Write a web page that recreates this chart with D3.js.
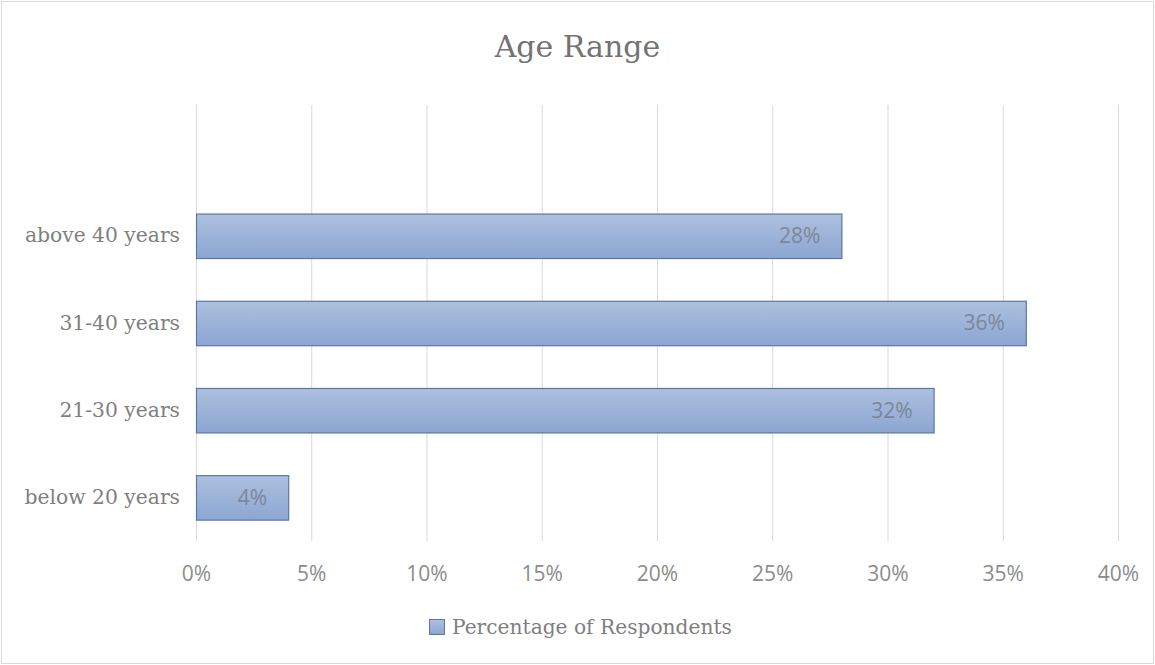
<!DOCTYPE html>
<html>
<head>
<meta charset="utf-8">
<script src="https://cdn.jsdelivr.net/npm/d3@7"></script>
<style>
  html, body { margin: 0; padding: 0; background: #fff; }
  svg { display: block; }
</style>
</head>
<body>
<script>
// Age distribution of respondents
const categories = ["above 40 years", "31-40 years", "21-30 years", "below 20 years"];
const values = [28, 36, 32, 4];
const tickValues = [0, 5, 10, 15, 20, 25, 30, 35, 40];
const seriesName = "Percentage of Respondents";
const title = "Age Range";

const W = 1155, H = 665;
const svg = d3.select("body").append("svg").attr("width", W).attr("height", H);

const defs = svg.append("defs");
const grad = defs.append("linearGradient").attr("id", "barGrad")
  .attr("x1", 0).attr("y1", 0).attr("x2", 0).attr("y2", 1);
grad.append("stop").attr("offset", "0%").attr("stop-color", "#adc0de");
grad.append("stop").attr("offset", "100%").attr("stop-color", "#8ba6d2");

// chart frame
svg.append("rect").attr("x", 1.5).attr("y", 1.5).attr("width", W - 3).attr("height", H - 3)
  .attr("fill", "#fff").attr("stroke", "#d9d9d9").attr("stroke-width", 1);

const plotTop = 105, plotBottom = 541, left = 196, right = 1118;
const serif = "'DejaVu Serif', serif";
const sans = "'Open Sans', sans-serif";

const x = d3.scaleLinear().domain([0, 40]).range([left, right]);
// one empty slot above the first category
const step = (plotBottom - plotTop) / (categories.length + 1);
const y = d3.scaleBand().domain(categories)
  .range([plotTop + step, plotBottom]).paddingInner(0.49).paddingOuter(0.245);

// vertical gridlines
svg.append("g").selectAll("line").data(tickValues).join("line")
  .attr("x1", d => x(d) + 0.5).attr("x2", d => x(d) + 0.5)
  .attr("y1", plotTop).attr("y2", plotBottom)
  .attr("stroke", "#d9d9d9").attr("stroke-width", 1);

// x axis tick labels
const xAxis = d3.axisBottom(x).tickValues(tickValues).tickFormat(d => d + "%").tickSize(0).tickPadding(0);
const gx = svg.append("g").attr("transform", `translate(0, ${plotBottom + 24})`).call(xAxis);
gx.select(".domain").remove();
gx.selectAll("text").attr("fill", "#8c8c8c").attr("font-family", sans)
  .attr("font-size", 21).attr("dy", "0.75em");

// y axis category labels
const yAxis = d3.axisLeft(y).tickSize(0).tickPadding(16);
const gy = svg.append("g").attr("transform", `translate(${left}, 0)`).call(yAxis);
gy.select(".domain").remove();
gy.selectAll("text").attr("fill", "#7f7f7f").attr("font-family", serif)
  .attr("font-size", 20.3);

// bars
svg.append("g").selectAll("rect").data(categories).join("rect")
  .attr("x", x(0) + 0.5)
  .attr("y", d => y(d) + 0.5)
  .attr("width", (d, i) => x(values[i]) - x(0))
  .attr("height", y.bandwidth())
  .attr("fill", "url(#barGrad)")
  .attr("stroke", "#5a77a6").attr("stroke-width", 1.2);

// data labels inside bar ends
svg.append("g").selectAll("text").data(categories).join("text")
  .attr("x", (d, i) => x(values[i]) - 21)
  .attr("y", d => y(d) + y.bandwidth() / 2)
  .attr("dy", "0.35em")
  .attr("text-anchor", "end")
  .attr("fill", "#7d8699")
  .attr("font-family", sans)
  .attr("font-size", 21)
  .text((d, i) => values[i] + "%");

// title
svg.append("text").attr("x", W / 2).attr("y", 57).attr("text-anchor", "middle")
  .attr("fill", "#737373").attr("font-family", serif).attr("font-size", 30)
  .text(title);

// legend
const lg = svg.append("g").attr("transform", "translate(429, 619)");
lg.append("rect").attr("x", 0.5).attr("y", 0.5).attr("width", 15).attr("height", 15)
  .attr("fill", "url(#barGrad)").attr("stroke", "#5a77a6").attr("stroke-width", 1);
lg.append("text").attr("x", 23).attr("y", 8).attr("dy", "0.35em")
  .attr("fill", "#7f7f7f").attr("font-family", serif).attr("font-size", 20.2)
  .text(seriesName);
</script>
</body>
</html>
